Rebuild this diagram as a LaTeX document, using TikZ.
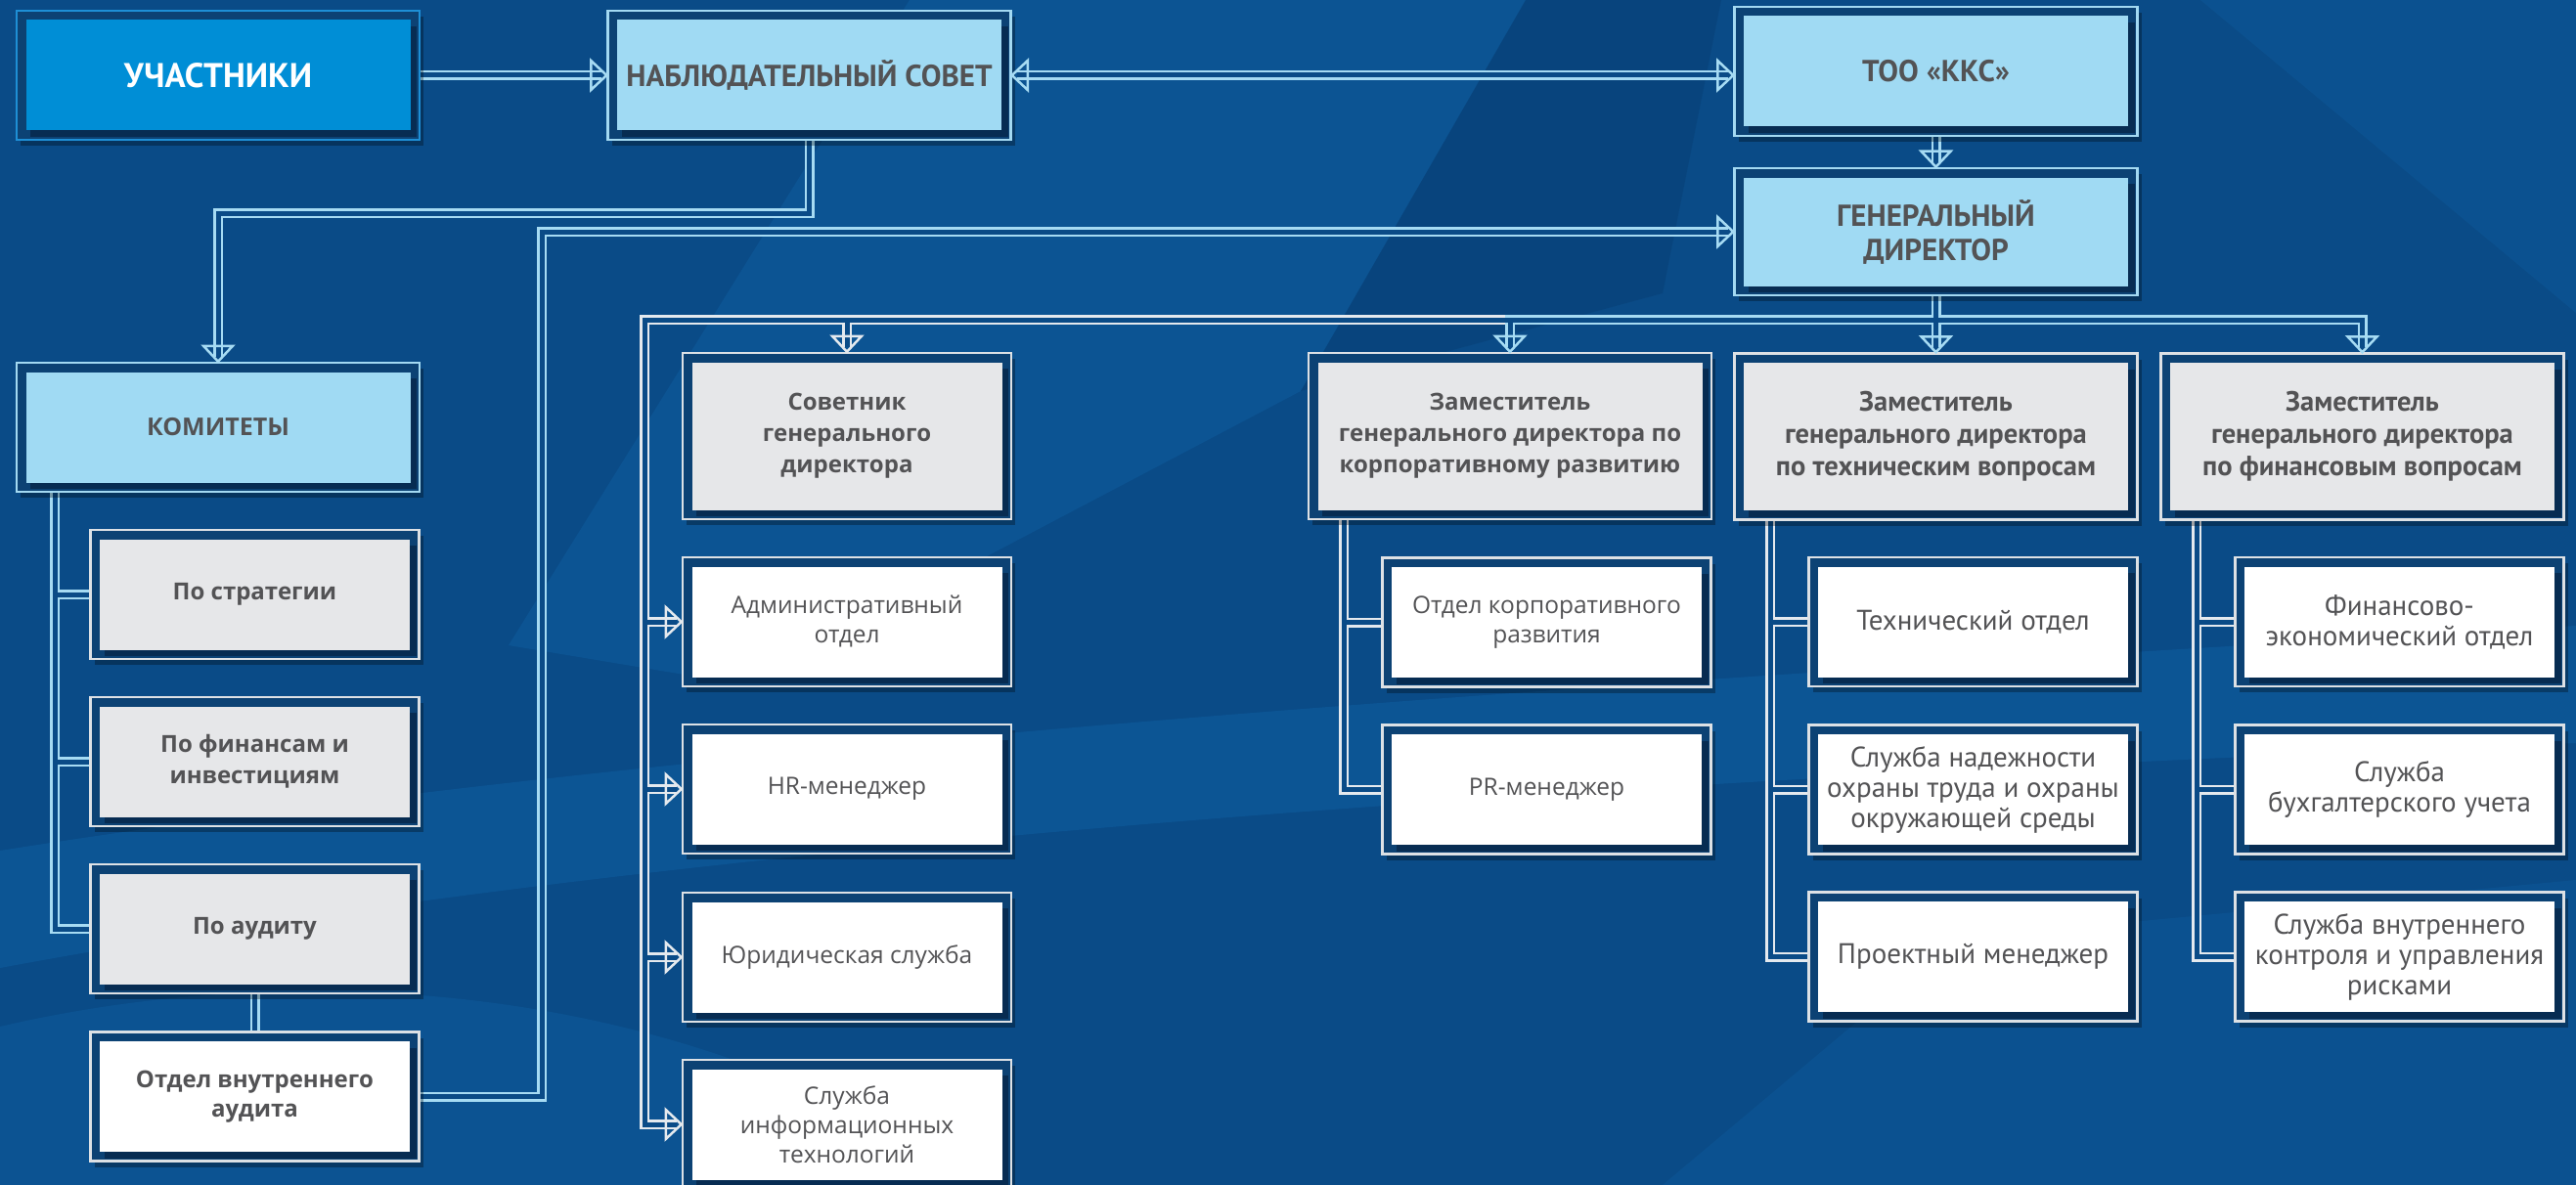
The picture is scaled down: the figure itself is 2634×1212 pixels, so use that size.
\documentclass[tikz,border=0pt]{standalone}
\usepackage{fontspec}
\setmainfont{Open Sans}
\newfontfamily\widef{Open Sans}
\newfontfamily\condf{PT Sans}
\usetikzlibrary{calc,shadows}
\definecolor{bgA}{HTML}{0A4B87}
\definecolor{bgL}{HTML}{0E5C9E}
\definecolor{bgD}{HTML}{083F74}
\definecolor{gapcol}{HTML}{0C4274}
\definecolor{shcol}{HTML}{072C52}
\definecolor{pipeB}{HTML}{A6DBF3}
\definecolor{pipeW}{HTML}{E4E9EE}
\definecolor{frB}{HTML}{A3D9F2}
\definecolor{frW}{HTML}{DDE1E5}
\definecolor{frU}{HTML}{1E8FD6}
\definecolor{fillU}{HTML}{008ED6}
\definecolor{fillB}{HTML}{A0DAF3}
\definecolor{fillG}{HTML}{E6E7E9}
\definecolor{txt}{HTML}{535355}
\pgfdeclarelayer{bglayer}
\pgfdeclarelayer{pipeo}
\pgfdeclarelayer{pipei}
\pgfdeclarelayer{tips}
\pgfsetlayers{bglayer,pipeo,pipei,main,tips}
\newcommand\pipe[2][pipeB]{%
  \begin{pgfonlayer}{pipeo}\draw[line width=10pt,#1] #2;\end{pgfonlayer}%
  \begin{pgfonlayer}{pipei}\draw[line width=5pt,bgA] #2;\end{pgfonlayer}}
\newcommand\tipD[2][pipeB]{\begin{pgfonlayer}{tips}\draw[tipst,#1] (#2) -- ++(-15,-16) -- ++(30,0) -- cycle;\end{pgfonlayer}}
\newcommand\tipR[2][pipeB]{\begin{pgfonlayer}{tips}\draw[tipst,#1] (#2) -- ++(-16,-15) -- ++(0,30) -- cycle;\end{pgfonlayer}}
\newcommand\tipL[2][pipeB]{\begin{pgfonlayer}{tips}\draw[tipst,#1] (#2) -- ++(16,-15) -- ++(0,30) -- cycle;\end{pgfonlayer}}
\tikzset{
  tipst/.style={line width=2.5pt, line join=miter},
  orgbox/.style 2 args={rectangle, draw=#1, line width=2.5pt, fill=gapcol, inner sep=0pt, align=center, text=txt,
    drop shadow={shadow xshift=4pt, shadow yshift=-6pt, opacity=0.3, fill=black},
    path picture={
      \fill[shcol] ([shift={(14pt,-16pt)}]path picture bounding box.north west) rectangle ([shift={(-3pt,3pt)}]path picture bounding box.south east);
      \fill[#2] ([shift={(9.5pt,-9.5pt)}]path picture bounding box.north west) rectangle ([shift={(-9.5pt,9.5pt)}]path picture bounding box.south east);}},
  wbig/.style={minimum width=412pt, minimum height=132pt},
  wmid/.style={minimum width=336pt, minimum height=132pt},
  whead/.style={minimum width=412pt, minimum height=170pt},
  capsbox/.style={orgbox={frB}{fillB}, wbig, font=\condf\bfseries\fontsize{31}{35}\selectfont},
  uchbox/.style={orgbox={frU}{fillU}, wbig, text=white, font=\condf\bfseries\fontsize{35}{38}\selectfont},
  kombox/.style={orgbox={frB}{fillB}, wbig, font=\widef\bfseries\fontsize{25}{30}\selectfont},
  gwide/.style={orgbox={frW}{fillG}, font=\widef\bfseries\fontsize{24}{32}\selectfont},
  wwide/.style={orgbox={frW}{white}, font=\widef\fontsize{24.5}{30}\selectfont},
  wwideb/.style={orgbox={frW}{white}, font=\widef\bfseries\fontsize{24}{30}\selectfont},
  gcond/.style={orgbox={frW}{fillG}, font=\condf\bfseries\fontsize{28.5}{33}\selectfont},
  wcond/.style={orgbox={frW}{white}, font=\condf\fontsize{29}{31}\selectfont},
}
\begin{document}
\begin{tikzpicture}[x=1pt,y=-1pt]
\useasboundingbox (0,0) rectangle (2634,1212);
\begin{pgfonlayer}{bglayer}
  \fill[bgA] (0,0) rectangle (2634,1212);
  \fill[bgL,opacity=.55] (930,0) -- (1560,0) -- (1330,400) -- (760,700) -- (520,660) -- cycle;
  \fill[bgD,opacity=.5] (1560,0) -- (1760,0) -- (1700,300) -- (1330,400) -- cycle;
  \fill[bgL,opacity=.6] (0,870) .. controls (700,760) and (1600,700) .. (2634,640) -- (2634,760) .. controls (1600,800) and (700,860) .. (0,990) -- cycle;
  \fill[bgL,opacity=.5] (0,1050) .. controls (300,980) and (700,1000) .. (1000,1212) -- (0,1212) -- cycle;
  \fill[bgL,opacity=.4] (1700,1212) -- (2000,960) -- (2634,900) -- (2634,1212) -- cycle;
  \fill[bgL,opacity=.4] (2250,0) -- (2634,0) -- (2634,320) -- cycle;
\end{pgfonlayer}

% top row
\node[uchbox] (uch) at (223,77) {УЧАСТНИКИ};
\node[capsbox] (ns) at (827.5,77) {НАБЛЮДАТЕЛЬНЫЙ СОВЕТ};
\node[capsbox] (too) at (1979.5,73) {ТОО «ККС»};
\node[capsbox, minimum height=130pt] (gd) at (1979.5,237) {ГЕНЕРАЛЬНЫЙ\\ДИРЕКТОР};

% committees column
\node[kombox] (kom) at (223,437) {КОМИТЕТЫ};
\node[gwide, wmid] (strat) at (260.5,608) {По стратегии};
\node[gwide, wmid] (fin) at (260.5,779) {По финансам и\\инвестициям};
\node[gwide, wmid] (aud) at (260.5,950) {По аудиту};
\node[wwideb, wmid] (oia) at (260.5,1121.5) {Отдел внутреннего\\аудита};

% adviser column
\node[gwide, minimum width=336pt, minimum height=170pt] (sov) at (866,446) {Советник\\генерального\\директора};
\node[wwide, wmid] (adm) at (866,636) {Административный\\отдел};
\node[wwide, wmid] (hr) at (866,807) {HR-менеджер};
\node[wwide, wmid] (jur) at (866,979) {Юридическая служба};
\node[wwide, wmid] (it) at (866,1150) {Служба\\информационных\\технологий};

% corporate development
\node[gwide, whead] (zk) at (1544,446) {Заместитель\\генерального директора по\\корпоративному развитию};
\node[wwide, wmid] (okr) at (1581.5,636.5) {Отдел корпоративного\\развития};
\node[wwide, wmid] (pr) at (1581.5,807.5) {PR-менеджер};

% technical
\node[gcond, whead] (zt) at (1979.5,446.5) {Заместитель\\генерального директора\\по техническим вопросам};
\node[wcond, wmid] (to) at (2017.5,636) {Технический отдел};
\node[wcond, wmid] (sn) at (2017.5,807.5) {Служба надежности\\охраны труда и охраны\\окружающей среды};
\node[wcond, wmid] (pm) at (2017.5,978.5) {Проектный менеджер};

% financial
\node[gcond, whead] (zf) at (2415.5,446.5) {Заместитель\\генерального директора\\по финансовым вопросам};
\node[wcond, wmid] (fe) at (2453.5,636) {Финансово-\\экономический отдел};
\node[wcond, wmid] (sb) at (2453.5,807.5) {Служба\\бухгалтерского учета};
\node[wcond, wmid] (svk) at (2453.5,978.5) {Служба внутреннего\\контроля и управления\\рисками};

% helper coordinates
\coordinate (by) at (0,327);
\coordinate (lb) at (659,0);
\coordinate (kb) at (56,0);
\coordinate (xa) at (554,0);
\coordinate (zb) at (1374,0);
\coordinate (tb) at (1810,0);
\coordinate (fb) at (2246,0);

% top connectors
\pipe{(uch.east) -- ([xshift=-5pt]ns.west)}
\tipR{ns.west}
\pipe{([xshift=5pt]ns.east) -- ([xshift=-5pt]ns.east -| too.west)}
\tipL{ns.east}
\tipR{ns.east -| too.west}
\pipe{(too.south) -- ([yshift=5pt]gd.north)}
\tipD{gd.north}
\pipe{(ns.south) -- ++(0,74) -| ([yshift=5pt]kom.north)}
\tipD{kom.north}
\pipe{(oia.east) -- (oia.east -| xa) |- ([xshift=-5pt]gd.west)}
\tipR{gd.west}
\pipe{(aud.south) -- (oia.north)}

% committees bus
\pipe{(kom.south -| kb) |- (aud.west)}
\pipe{(kom.south -| kb) |- (fin.west)}
\pipe{(kom.south -| kb) |- (strat.west)}

% general director bus (white part)
\pipe[pipeW]{(gd.south) -- (gd.south |- by) -| (lb |- it.west) -- ([xshift=-5pt]it.west)}
\pipe[pipeW]{(gd.south) -- (gd.south |- by) -| (lb |- jur.west) -- ([xshift=-5pt]jur.west)}
\pipe[pipeW]{(gd.south) -- (gd.south |- by) -| (lb |- hr.west) -- ([xshift=-5pt]hr.west)}
\pipe[pipeW]{(gd.south) -- (gd.south |- by) -| (lb |- adm.west) -- ([xshift=-5pt]adm.west)}
\pipe[pipeW]{(gd.south) -- (gd.south |- by) -| ([yshift=5pt]sov.north)}
\tipR[pipeW]{adm.west}
\tipR[pipeW]{hr.west}
\tipR[pipeW]{jur.west}
\tipR[pipeW]{it.west}
\tipD[pipeW]{sov.north}
% general director bus (blue part)
\pipe{(gd.south) -- (gd.south |- by) -| ([yshift=5pt]zk.north)}
\pipe{(gd.south) -- ([yshift=5pt]zt.north)}
\pipe{(gd.south) -- (gd.south |- by) -| ([yshift=5pt]zf.north)}
\tipD{zk.north}
\tipD{zt.north}
\tipD{zf.north}

% deputies' buses
\pipe[pipeW]{(zk.south -| zb) |- (pr.west)}
\pipe[pipeW]{(zk.south -| zb) |- (okr.west)}
\pipe[pipeW]{(zt.south -| tb) |- (pm.west)}
\pipe[pipeW]{(zt.south -| tb) |- (sn.west)}
\pipe[pipeW]{(zt.south -| tb) |- (to.west)}
\pipe[pipeW]{(zf.south -| fb) |- (svk.west)}
\pipe[pipeW]{(zf.south -| fb) |- (sb.west)}
\pipe[pipeW]{(zf.south -| fb) |- (fe.west)}
\end{tikzpicture}
\end{document}
